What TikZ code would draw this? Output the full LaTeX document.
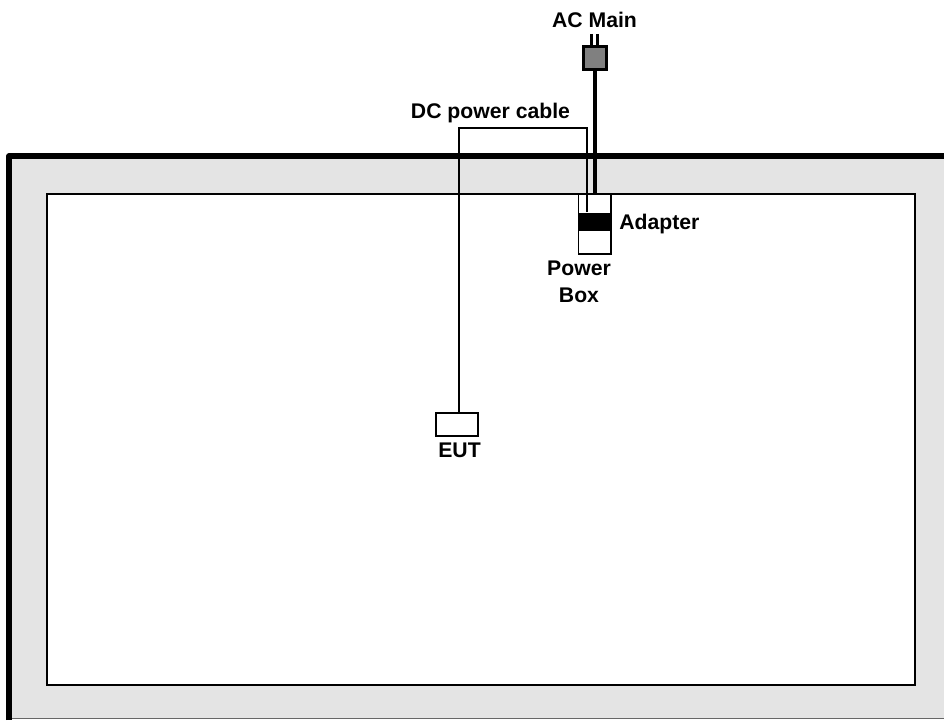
\documentclass[tikz,border=0pt]{standalone}
\usepackage{fontspec}
\setmainfont{Liberation Sans}
\definecolor{wallgray}{RGB}{228,228,228}
\definecolor{pluggray}{RGB}{128,128,128}
\tikzset{
  x=0.75pt,y=-0.75pt,
  lbl/.style={font=\bfseries\fontsize{15.9pt}{20pt}\selectfont,inner sep=0pt,align=center,text=black},
  thin line/.style={draw=black,line width=1.4pt},
  plain box/.style={draw=black,line width=1.4pt,fill=white,inner sep=0pt,minimum width=0pt},
}
\begin{document}
\begin{tikzpicture}
\useasboundingbox (0,0) rectangle (944,720);
% room
\fill[wallgray] (9,156) rectangle (944,718.5);
\draw[draw=gray!80!black,line width=0.9pt] (12,718.8) -- (944,718.8);
\draw[black,line width=4.2pt,line join=round] (9,720) -- (9,156) -- (944,156);
\draw[thin line,fill=white] (47,194) rectangle (915,685);
% power box
\draw[thin line,fill=white] (578.5,194) rectangle (611,254);
\fill[black] (577.5,212.5) rectangle (612,231);
% plug
\draw[black,line width=1.7pt] (591.5,34) -- (591.5,46);
\draw[black,line width=1.7pt] (597.5,34) -- (597.5,46);
\node[draw=black,line width=2.4pt,fill=pluggray,minimum width=17pt,minimum height=17pt,inner sep=0pt] (plug) at (595,58) {};
\coordinate (adapterin) at (595,194);
\draw[black,line width=2.4pt] (plug.south) -- (adapterin);
% dc cable and EUT
\node[plain box,minimum width=31.5pt,minimum height=17pt] (eut) at (457,424.5) {};
\coordinate (dcout) at (586.7,212);
\draw[thin line] (dcout) -- (586.7,128) -- (459,128) -- (eut.north -| 459,0);
% labels
\node[lbl] (acmain) at (594.5,20) {AC Main};
\node[lbl] (dclabel) at (490.5,113.5) {DC power cable};
\node[lbl,anchor=west] (adapter) at (619,224) {Adapter};
\node[lbl] (powerbox) at (579,281.5) {Power\\Box};
\node[lbl] (eutlabel) at (459.5,450.5) {EUT};
\end{tikzpicture}
\end{document}
